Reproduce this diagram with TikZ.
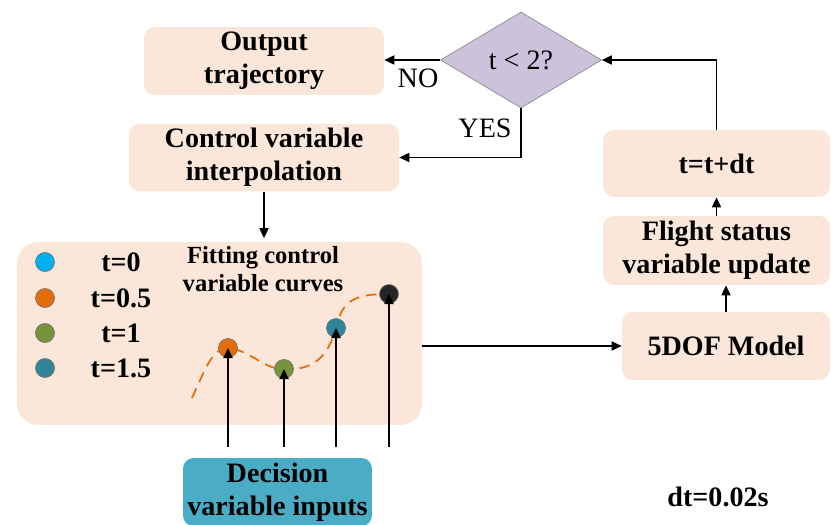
\documentclass[tikz,border=0pt]{standalone}
\usepackage{fontspec}
\setmainfont{Liberation Serif}
\usetikzlibrary{arrows.meta, shapes.geometric}
\definecolor{peach}{RGB}{251,231,217}
\definecolor{lilac}{RGB}{204,194,219}
\definecolor{inblue}{RGB}{75,172,198}
\definecolor{dotcyan}{RGB}{0,176,240}
\definecolor{dotorange}{RGB}{228,108,10}
\definecolor{dotgreen}{RGB}{119,147,60}
\definecolor{dotteal}{RGB}{49,133,155}

\begin{document}
\begin{tikzpicture}[x=0.02cm, y=-0.02cm,
    box/.style={rounded corners=6pt, fill=peach, align=center, inner sep=0pt,
                font=\fontsize{16}{19}\selectfont\bfseries},
    plain/.style={font=\fontsize{16}{19}\selectfont},
    dot/.style={circle, draw=black!55, minimum size=0.38cm, inner sep=0pt},
    arrow/.style={-{Triangle[length=2mm, width=1.8mm]}, line width=1pt}]
    \useasboundingbox (0,0) rectangle (831,524);

    % left column
    \node[box, minimum width=4.8cm, minimum height=1.36cm] (out) at (264,61)
        {Output\\ trajectory};
    \node[box, minimum width=5.4cm, minimum height=1.36cm] (ctrl) at (264,157.5)
        {Control variable\\ interpolation};
    \node[box, rounded corners=12pt, minimum width=8.1cm, minimum height=3.66cm]
        (fit) at (219.5,333.5) {};
    \node[box, fill=inblue, minimum width=3.78cm, minimum height=1.36cm] (dec)
        at (277.5,492) {Decision\\ variable inputs};

    % decision
    \node[diamond, draw=black!45, fill=lilac, minimum width=3.22cm,
          minimum height=1.92cm, inner sep=0pt, plain] (cond) at (521,60) {t < 2?};

    % right column
    \node[box, minimum width=4.16cm, minimum height=1.36cm] (dof) at (726,346)
        {5DOF Model};
    \node[box, minimum width=4.54cm, minimum height=1.38cm] (flight) at (716.5,250.5)
        {Flight status\\ variable update};
    \node[box, minimum width=4.54cm, minimum height=1.34cm] (tdt) at (716.5,163.5)
        {t=t+dt};

    % legend
    \foreach \y/\c/\t [count=\i] in {262/dotcyan/t=0, 298/dotorange/t=0.5,
                                      333/dotgreen/t=1, 368/dotteal/t=1.5} {
        \node[dot, fill=\c] (leg\i) at (45,\y) {};
        \node[box, fill=none] (legtext\i) at (121,\y) {\t};
    }
    \node[box, fill=none, font=\fontsize{14}{16}\selectfont\bfseries] (fittitle)
        at (263,269) {Fitting control\\ variable curves};

    % fitted curve
    \coordinate (c1) at (228,348);
    \coordinate (c2) at (284,369);
    \coordinate (c3) at (336,328);
    \coordinate (c4) at (389,294);
    \draw[dotorange, line width=1pt, dash pattern=on 6pt off 4pt]
        (192,398) .. controls (205,370) and (212,348) .. (c1)
        .. controls (250,350) and (265,370) .. (c2)
        .. controls (305,370) and (326,365) .. (c3)
        .. controls (342,300) and (355,294) .. (c4);
    \node[dot, fill=dotorange] (p1) at (c1) {};
    \node[dot, fill=dotgreen] (p2) at (c2) {};
    \node[dot, fill=dotteal] (p3) at (c3) {};
    \node[dot, fill=black!85] (p4) at (c4) {};
    \foreach \p in {p1,p2,p3,p4}
        \draw[arrow] (\p |- 0,447) -- (\p.center);

    % connectors
    \draw[arrow] (cond.west) -- (cond.west -| out.east);
    \node[plain] (no) at (418,78) {NO};
    \draw[arrow] (cond.south) |- (ctrl.east);
    \node[plain] (yes) at (485,128) {YES};
    \draw[arrow] (ctrl.south) -- ([yshift=2pt]ctrl.south |- fit.north);
    \draw[arrow] (fit.east |- dof.west) -- (dof.west);
    \draw[arrow] (dof.north) -- (dof.north |- flight.south);
    \draw[arrow] (flight.north) -- (tdt.south);
    \draw[arrow] (tdt.north) |- (cond.east);

    \node[box, fill=none] (step) at (718,497) {dt=0.02s};
\end{tikzpicture}
\end{document}
